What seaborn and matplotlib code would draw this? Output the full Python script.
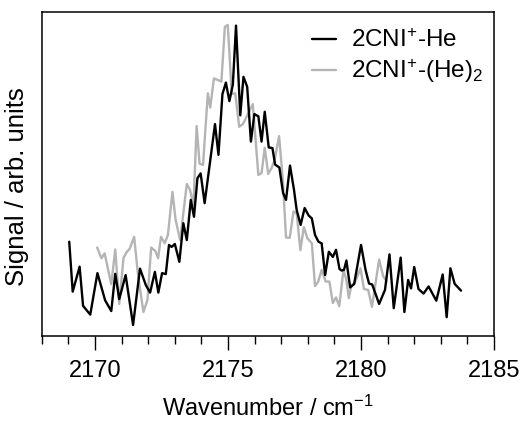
import numpy as np
import pandas as pd
import matplotlib.pyplot as plt
import matplotlib.ticker as mticker
import seaborn as sns

# 2CNI+-He spectrum (wavenumber / cm-1, signal / arb. units)
he1_x = [2169.03, 2169.16, 2169.42, 2169.55, 2169.82, 2170.09, 2170.38, 2170.61, 2170.76, 2170.91,
         2171.15, 2171.43, 2171.69, 2171.91, 2172.07, 2172.25, 2172.38, 2172.52, 2172.66, 2172.78,
         2172.88, 2173.00, 2173.17, 2173.32, 2173.45, 2173.60, 2173.72, 2173.85, 2173.97, 2174.12,
         2174.51, 2174.64, 2174.79, 2174.92, 2175.05, 2175.18, 2175.30, 2175.46, 2175.58, 2175.72,
         2175.86, 2175.99, 2176.14, 2176.26, 2176.38, 2176.53, 2176.67, 2176.77, 2176.93, 2177.07,
         2177.18, 2177.33, 2177.48, 2177.58, 2177.73, 2177.88, 2178.03, 2178.15, 2178.27, 2178.40,
         2178.52, 2178.65, 2178.79, 2178.94, 2179.06, 2179.19, 2179.27, 2179.36, 2179.45, 2179.59,
         2179.74, 2180.00, 2180.17, 2180.30, 2180.42, 2180.68, 2180.90, 2181.07, 2181.23, 2181.49,
         2181.63, 2181.77, 2181.88, 2182.00, 2182.16, 2182.35, 2182.54, 2182.83, 2183.07, 2183.22,
         2183.36, 2183.52, 2183.76]
he1_y = [0.291, 0.137, 0.214, 0.093, 0.066, 0.194, 0.110, 0.077, 0.192, 0.114,
         0.188, 0.034, 0.208, 0.157, 0.134, 0.198, 0.134, 0.194, 0.191, 0.281,
         0.275, 0.284, 0.229, 0.348, 0.296, 0.420, 0.368, 0.487, 0.502, 0.410,
         0.654, 0.559, 0.747, 0.782, 0.725, 0.775, 0.958, 0.681, 0.800, 0.769,
         0.600, 0.685, 0.678, 0.600, 0.692, 0.582, 0.580, 0.529, 0.520, 0.441,
         0.420, 0.526, 0.451, 0.389, 0.343, 0.395, 0.372, 0.363, 0.312, 0.291,
         0.286, 0.188, 0.260, 0.244, 0.266, 0.207, 0.202, 0.204, 0.233, 0.150,
         0.160, 0.281, 0.204, 0.162, 0.159, 0.099, 0.142, 0.252, 0.086, 0.242,
         0.074, 0.173, 0.147, 0.213, 0.145, 0.131, 0.153, 0.109, 0.190, 0.058,
         0.209, 0.161, 0.140]

# 2CNI+-(He)2 spectrum
he2_x = [2170.08, 2170.24, 2170.36, 2170.61, 2170.76, 2170.91, 2171.07, 2171.18, 2171.30, 2171.47,
         2171.62, 2171.82, 2171.97, 2172.11, 2172.27, 2172.37, 2172.48, 2172.62, 2172.74, 2172.91,
         2173.03, 2173.20, 2173.32, 2173.45, 2173.57, 2173.70, 2173.82, 2173.93, 2174.06, 2174.24,
         2174.33, 2174.47, 2174.62, 2174.75, 2174.88, 2174.99, 2175.14, 2175.27, 2175.42, 2175.56,
         2175.71, 2175.93, 2176.14, 2176.26, 2176.38, 2176.51, 2176.64, 2176.75, 2176.92, 2177.06,
         2177.18, 2177.32, 2177.46, 2177.58, 2177.72, 2177.85, 2177.98, 2178.15, 2178.27, 2178.39,
         2178.52, 2178.67, 2178.81, 2178.94, 2179.06, 2179.18, 2179.34, 2179.45, 2179.54, 2179.64,
         2179.76, 2179.98, 2180.11, 2180.27, 2180.41, 2180.68, 2180.83, 2180.97]
he2_y = [0.273, 0.240, 0.255, 0.160, 0.267, 0.099, 0.241, 0.258, 0.269, 0.306,
         0.185, 0.074, 0.111, 0.273, 0.262, 0.240, 0.306, 0.286, 0.312, 0.445,
         0.358, 0.296, 0.379, 0.469, 0.451, 0.404, 0.648, 0.532, 0.528, 0.749,
         0.705, 0.795, 0.790, 0.785, 0.954, 0.960, 0.747, 0.749, 0.646, 0.654,
         0.679, 0.716, 0.497, 0.503, 0.581, 0.500, 0.519, 0.543, 0.617, 0.481,
         0.304, 0.303, 0.384, 0.379, 0.265, 0.336, 0.302, 0.286, 0.154, 0.168,
         0.204, 0.168, 0.168, 0.102, 0.119, 0.092, 0.204, 0.173, 0.117, 0.157,
         0.163, 0.209, 0.145, 0.142, 0.090, 0.236, 0.185, 0.168]

labels = ["2CNI$^{+}$-He", "2CNI$^{+}$-(He)$_{2}$"]
colors = ["black", "#b4b4b4"]
major_ticks = [2170, 2175, 2180, 2185]

df = pd.concat([
    pd.DataFrame({"wn": he1_x, "sig": he1_y, "ion": labels[0]}),
    pd.DataFrame({"wn": he2_x, "sig": he2_y, "ion": labels[1]}),
])

sns.set_theme(style="white")
plt.rcParams["font.family"] = ["Liberation Sans", "DejaVu Sans"]
plt.rcParams["mathtext.default"] = "regular"
plt.rcParams["text.color"] = "black"
plt.rcParams["axes.labelcolor"] = "black"
plt.rcParams["xtick.color"] = "black"

fig = plt.figure(figsize=(5.23, 4.21), dpi=100)
ax = fig.add_axes([0.080, 0.2019, 0.8646, 0.7696])

# gray first so the black trace sits on top
sns.lineplot(data=df, x="wn", y="sig", hue="ion", hue_order=labels[::-1],
             palette=colors[::-1], sort=False, estimator=None, lw=1.7, ax=ax)

h, l = ax.get_legend_handles_labels()
ax.legend(h[::-1], l[::-1], loc="upper left", bbox_to_anchor=(0.587, 0.942),
          bbox_transform=fig.transFigure, frameon=True, facecolor="white",
          edgecolor="none", framealpha=1, fontsize=17.5, handlelength=1.0,
          handletextpad=0.6, labelspacing=0.22, borderpad=0.2, borderaxespad=0)

ax.set_xlim(2168, 2185)
ax.set_ylim(0, 1)
ax.set_xticks(major_ticks)
ax.xaxis.set_minor_locator(mticker.MultipleLocator(1))
ax.set_yticks([])
ax.tick_params(axis="x", which="major", direction="out", length=10, width=1,
               color="black", labelsize=17, pad=7, bottom=True)
ax.tick_params(axis="x", which="minor", direction="out", length=5.5, width=1,
               color="black", bottom=True)
for s in ax.spines.values():
    s.set_color("black")
    s.set_linewidth(1.1)

ax.set_xlabel("Wavenumber / cm$^{-1}$", fontsize=17, labelpad=10)
ax.set_ylabel("Signal / arb. units", fontsize=18.5)
ax.yaxis.set_label_coords(-0.028, 0.46)

plt.savefig("out.png", dpi=100)
